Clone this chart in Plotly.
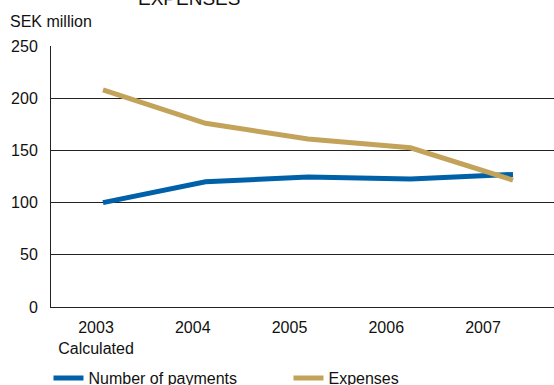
import plotly.graph_objects as go

years = [2003, 2004, 2005, 2006, 2007]
tick_labels = ["2003<br>Calculated", "2004", "2005", "2006", "2007"]
payments = [100, 120, 124.5, 122.5, 127]
expenses = [208, 176, 161, 152.5, 121.5]

# label placement slightly left of data points (as in reference)
label_pos = [2003 + (96 + 96.75 * i - 103) / 102.5 for i in range(5)]

blue = "#0061A8"
gold = "#C3A35A"
font = "Liberation Sans, Arial, sans-serif"

fig = go.Figure()
fig.add_trace(go.Scatter(x=years, y=payments, mode="lines", name="Number of payments",
                         line=dict(color=blue, width=5)))
fig.add_trace(go.Scatter(x=years, y=expenses, mode="lines", name="Expenses",
                         line=dict(color=gold, width=5)))

fig.update_layout(
    width=554, height=385,
    margin=dict(l=51, r=0, t=46, b=78, autoexpand=False),
    paper_bgcolor="white", plot_bgcolor="white",
    font=dict(family=font, size=16, color="#111"),
    showlegend=True,
    legend=dict(orientation="h", x=-0.005, xanchor="left", y=-0.272, yanchor="middle",
                font=dict(size=16), entrywidth=195, entrywidthmode="pixels",
                bgcolor="rgba(0,0,0,0)", tracegroupgap=0),
    xaxis=dict(range=[2003 - 52 / 102.5, 2003 + 451 / 102.5], tickvals=label_pos,
               ticktext=tick_labels, showgrid=False, zeroline=False, automargin=False,
               showline=True, linecolor="#222", linewidth=1, ticks="",
               tickfont=dict(size=16), ticklabelstandoff=6),
    yaxis=dict(range=[0, 250], tickvals=[0, 50, 100, 150, 200, 250], showgrid=True,
               gridcolor="#222", gridwidth=1, zeroline=False, showline=True, automargin=False,
               linecolor="#222", linewidth=1, ticks="", tickfont=dict(size=16),
               ticklabelstandoff=9),
    annotations=[
        dict(text="SEK million", xref="paper", yref="paper", x=0, y=1, xanchor="left",
             yanchor="bottom", xshift=-43, yshift=14, showarrow=False, font=dict(size=16)),
        dict(text="EXPENSES", xref="paper", yref="paper", x=0.275, y=1, xanchor="center",
             yanchor="bottom", yshift=35, showarrow=False, font=dict(size=19)),
    ],
)

fig.write_html("out.html")
